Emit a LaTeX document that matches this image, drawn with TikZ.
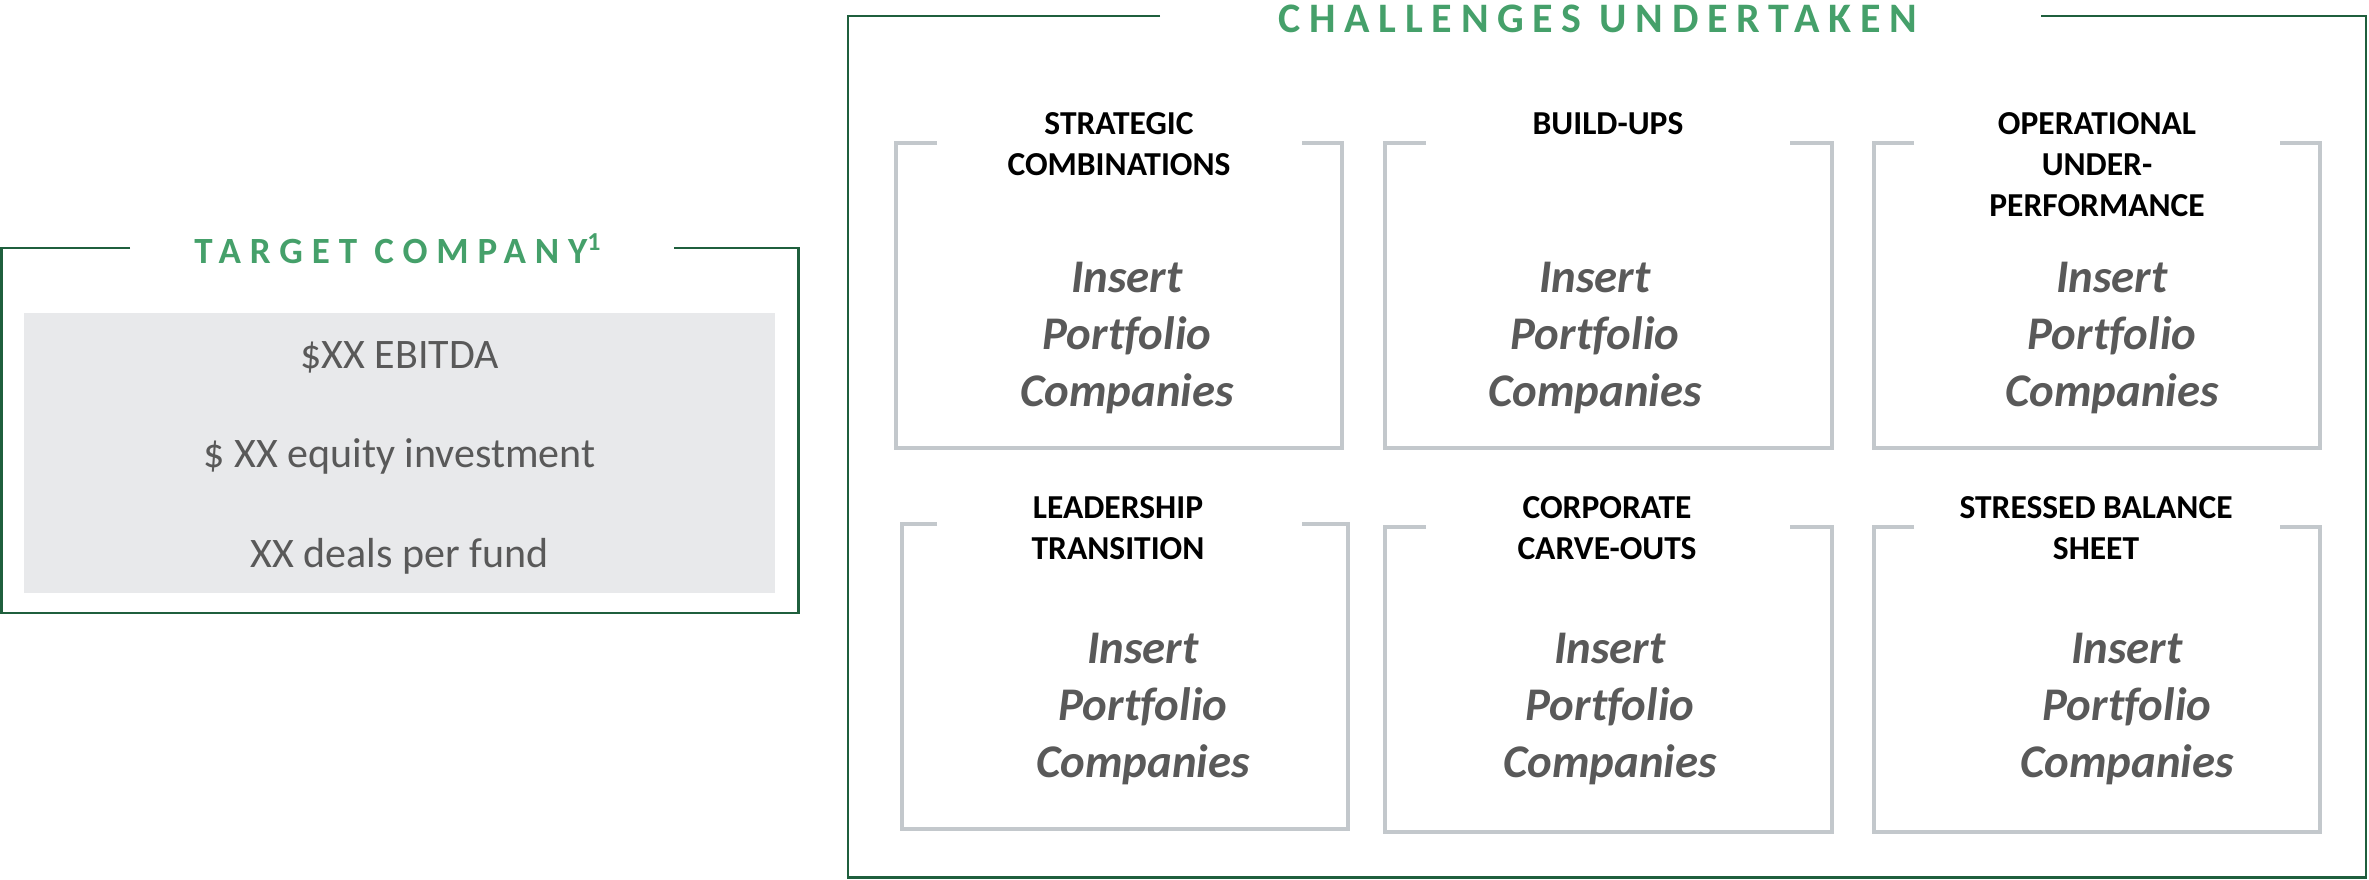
\documentclass[tikz,border=0pt]{standalone}
\usepackage{fontspec}
\setmainfont{Carlito}[Ligatures=NoCommon]
\definecolor{framegreen}{RGB}{31,95,61}
\definecolor{titlegreen}{RGB}{69,160,106}
\definecolor{bracketgray}{RGB}{195,200,204}
\definecolor{fillgray}{RGB}{232,233,235}
\definecolor{bodygray}{RGB}{89,89,89}
\newcommand{\brbox}[6]{\draw[bracket] (#5,#2) -- (#1,#2) -- (#1,#4) -- (#3,#4) -- (#3,#2) -- (#6,#2);}
\begin{document}
\begin{tikzpicture}[x=0.5pt,y=-0.5pt,
  frameline/.style={draw=framegreen, line width=1.4pt, line join=miter},
  bracket/.style={draw=bracketgray, line width=2pt, line join=miter},
  cattitle/.style={anchor=base, inner sep=0pt, text=black, font=\fontsize{16.75}{20.5}\selectfont\bfseries},
  catbody/.style={anchor=base, inner sep=0pt, text=bodygray, font=\fontsize{23.4}{28.6}\selectfont\bfseries\itshape},
  frametitle/.style={anchor=base, inner sep=0pt, text=titlegreen},
  infotext/.style={anchor=base, inner sep=0pt, text=bodygray, font=\fontsize{21}{49.75}\selectfont}]
\useasboundingbox (0,0) rectangle (2369,879);

% ---------- left frame ----------
\draw[frameline] (130,248) -- (1.4,248) -- (1.4,613) -- (798.5,613) -- (798.5,248) -- (674,248);
\node[frametitle, font=\fontsize{18.5}{22}\selectfont\bfseries\addfontfeature{LetterSpace=24}] (ttarget) at (398,263) {TARGET COMPANY\textsuperscript{1}};
\fill[fillgray] (24,313) rectangle (775,593);
\node[infotext] (info) at (399.5,368) {\parbox[t]{360pt}{\centering \$XX EBITDA\\\$ XX equity investment\\XX deals per fund}};

% ---------- right frame ----------
\draw[frameline] (1160,16) -- (848,16) -- (848,877.5) -- (2366,877.5) -- (2366,16) -- (2041,16);
\node[frametitle, font=\fontsize{21}{25}\selectfont\bfseries\addfontfeature{LetterSpace=20.7}] (tchal) at (1598,32) {CHALLENGES UNDERTAKEN};

% row 1
\brbox{896}{143}{1342}{448}{937}{1302}
\brbox{1385}{143}{1832}{448}{1426}{1790}
\brbox{1874}{143}{2320}{448}{1914}{2280}
% row 2
\brbox{902}{524}{1348}{829}{937}{1302}
\brbox{1385}{527}{1832}{832}{1426}{1790}
\brbox{1874}{527}{2320}{832}{1914}{2280}

\node[cattitle] (c1) at (1119,134) {\parbox[t]{220pt}{\centering STRATEGIC\\COMBINATIONS}};
\node[cattitle] (c2) at (1608,134) {\parbox[t]{220pt}{\centering BUILD-UPS}};
\node[cattitle] (c3) at (2097,134) {\parbox[t]{220pt}{\centering OPERATIONAL\\UNDER-\\PERFORMANCE}};
\node[cattitle] (c4) at (1118,518) {\parbox[t]{220pt}{\centering LEADERSHIP\\TRANSITION}};
\node[cattitle] (c5) at (1607,518) {\parbox[t]{220pt}{\centering CORPORATE\\CARVE-OUTS}};
\node[cattitle] (c6) at (2096,518) {\parbox[t]{220pt}{\centering STRESSED BALANCE\\SHEET}};

\node[catbody] (b1) at (1127,292) {\parbox[t]{220pt}{\centering Insert\\Portfolio\\Companies}};
\node[catbody] (b2) at (1595,292) {\parbox[t]{220pt}{\centering Insert\\Portfolio\\Companies}};
\node[catbody] (b3) at (2112,292) {\parbox[t]{220pt}{\centering Insert\\Portfolio\\Companies}};
\node[catbody] (b4) at (1143,663) {\parbox[t]{220pt}{\centering Insert\\Portfolio\\Companies}};
\node[catbody] (b5) at (1610,663) {\parbox[t]{220pt}{\centering Insert\\Portfolio\\Companies}};
\node[catbody] (b6) at (2127,663) {\parbox[t]{220pt}{\centering Insert\\Portfolio\\Companies}};
\end{tikzpicture}
\end{document}
